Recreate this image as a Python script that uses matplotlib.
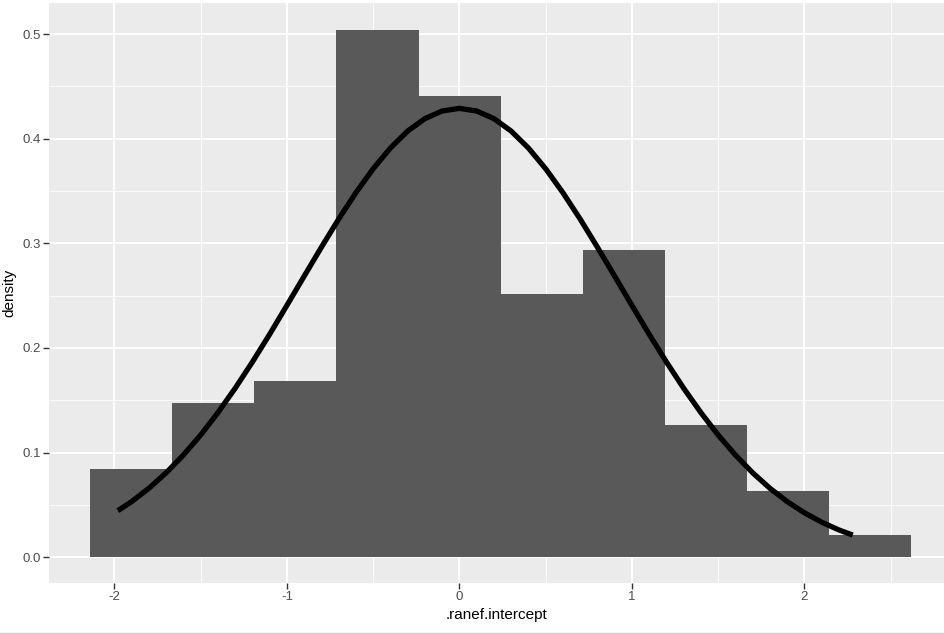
import matplotlib
matplotlib.use("Agg")
import matplotlib.pyplot as plt
from matplotlib.ticker import MultipleLocator, FixedLocator
from matplotlib.lines import Line2D

# Histogram data (density per bin)
bin_edges = [-2.141, -1.665, -1.189, -0.713, -0.237, 0.239, 0.715, 1.191, 1.667, 2.143, 2.619]
densities = [0.084, 0.147, 0.168, 0.504, 0.441, 0.252, 0.294, 0.126, 0.063, 0.021]

# Density curve points
curve_x = [-1.98, -1.9, -1.8, -1.7, -1.6, -1.5, -1.4, -1.3, -1.2, -1.1, -1.0,
           -0.9, -0.8, -0.7, -0.6, -0.5, -0.4, -0.3, -0.2, -0.1, 0.0,
           0.1, 0.2, 0.3, 0.4, 0.5, 0.6, 0.7, 0.8, 0.9, 1.0,
           1.1, 1.2, 1.3, 1.4, 1.5, 1.6, 1.7, 1.8, 1.9, 2.0, 2.1, 2.2, 2.28]
curve_y = [0.0445, 0.0532, 0.0659, 0.0807, 0.0977, 0.1168, 0.1382, 0.1615, 0.1866, 0.2131, 0.2407,
           0.2686, 0.2963, 0.3232, 0.3484, 0.3713, 0.3911, 0.4073, 0.4192, 0.4265, 0.429,
           0.4265, 0.4192, 0.4073, 0.3911, 0.3713, 0.3484, 0.3232, 0.2963, 0.2686, 0.2407,
           0.2131, 0.1866, 0.1615, 0.1382, 0.1168, 0.0977, 0.0807, 0.0659, 0.0532, 0.0425,
           0.0335, 0.0261, 0.0212]

x_ticks = [-2, -1, 0, 1, 2]
y_ticks = [0.0, 0.1, 0.2, 0.3, 0.4, 0.5]
y_tick_labels = ["0.0", "0.1", "0.2", "0.3", "0.4", "0.5"]

plt.rcParams['font.family'] = ['Liberation Sans', 'DejaVu Sans']

fig = plt.figure(figsize=(9.44, 6.34), dpi=100)
ax = fig.add_axes([49/944, 51/634, 895/944, 580/634])
ax.set_facecolor('#EBEBEB')

lefts = bin_edges[:-1]
widths = [bin_edges[i+1] - bin_edges[i] for i in range(len(densities))]
ax.bar(lefts, densities, width=widths, align='edge', color='#595959',
       edgecolor='none', zorder=2)
ax.plot(curve_x, curve_y, color='black', lw=3.8, solid_capstyle='butt',
        solid_joinstyle='round', zorder=3)

ax.set_xlim(-2.379, 2.809)
ax.set_ylim(-0.0246, 0.5297)

ax.xaxis.set_major_locator(FixedLocator(x_ticks))
ax.xaxis.set_minor_locator(MultipleLocator(0.5))
ax.yaxis.set_major_locator(FixedLocator(y_ticks))
ax.yaxis.set_minor_locator(MultipleLocator(0.05))
ax.set_xticklabels([str(t) for t in x_ticks])
ax.set_yticklabels(y_tick_labels)

ax.grid(which='major', color='white', lw=1.3, zorder=0)
ax.grid(which='minor', color='white', lw=0.6, zorder=0)
ax.set_axisbelow(True)

for s in ax.spines.values():
    s.set_visible(False)

ax.tick_params(which='major', length=4, width=1, color='#333333',
               labelsize=9.5, labelcolor='#4D4D4D', pad=2)
ax.tick_params(which='minor', length=0)

ax.set_xlabel('.ranef.intercept', fontsize=11, color='black', labelpad=3)
ax.set_ylabel('density', fontsize=11, color='black', labelpad=4)

fig.add_artist(Line2D([0, 1], [0.7/634, 0.7/634], color='#CCCCCC', lw=1,
                      transform=fig.transFigure))

fig.savefig('out.png', dpi=100)
